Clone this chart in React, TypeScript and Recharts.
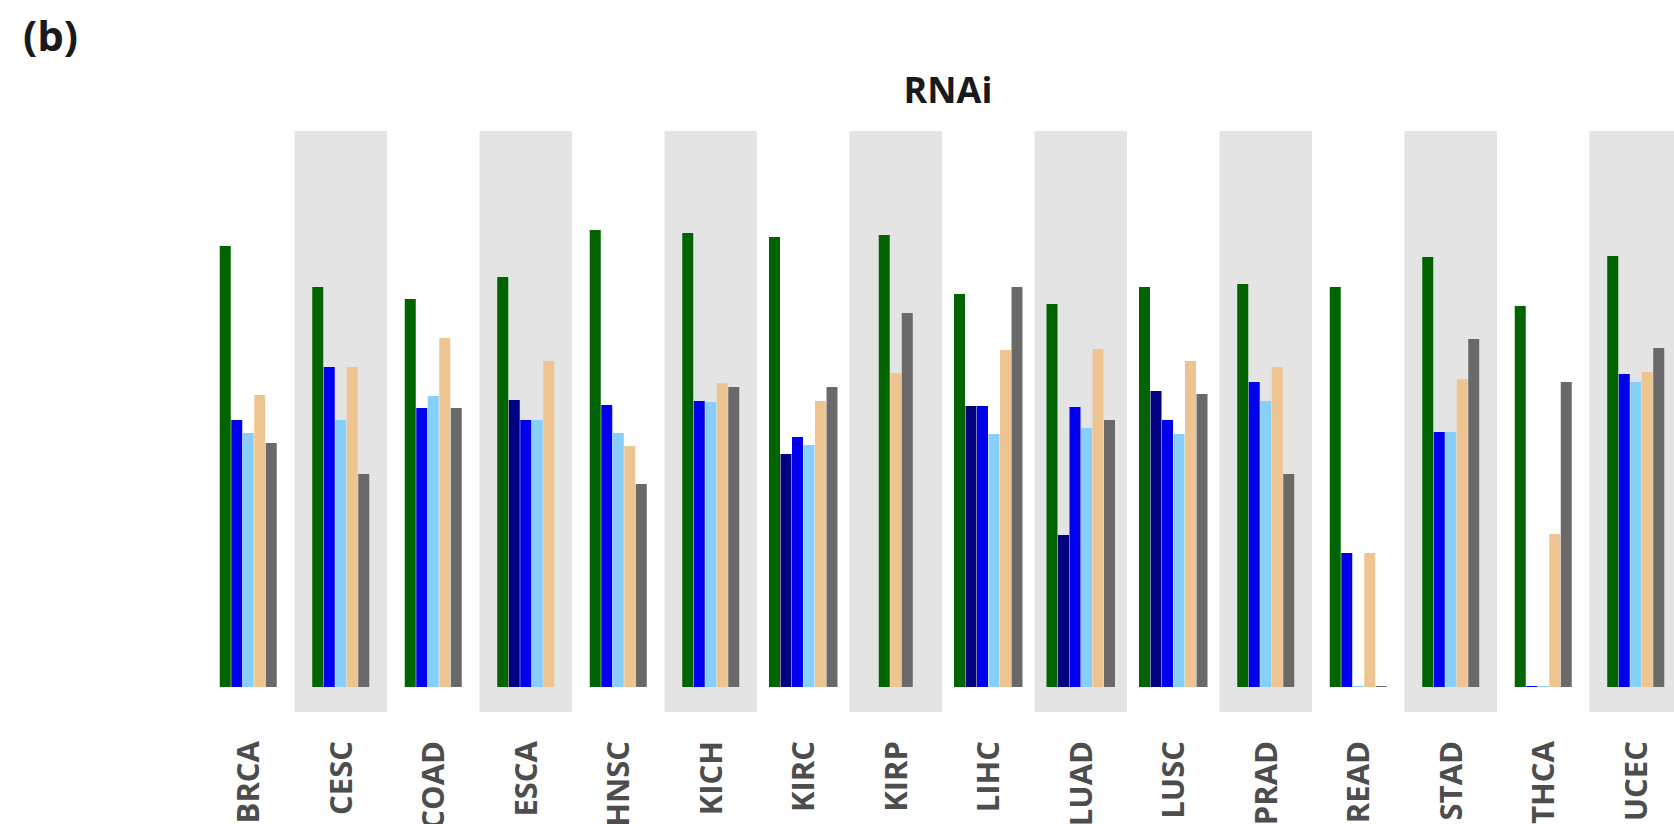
import { BarChart, Bar, XAxis, YAxis, ReferenceArea } from 'recharts';

const categories = ['BRCA', 'CESC', 'COAD', 'ESCA', 'HNSC', 'KICH', 'KIRC', 'KIRP', 'LIHC', 'LUAD', 'LUSC', 'PRAD', 'READ', 'STAD', 'THCA', 'UCEC'];

// null = no bar for this group (the remaining bars are re-centred)
const greenValues = [4.41, 4.0, 3.88, 4.1, 4.57, 4.54, 4.5, 4.52, 3.93, 3.83, 4.0, 4.03, 4.0, 4.3, 3.81, 4.31];
const navyValues = [null, null, null, 2.87, null, null, 2.33, null, 2.81, 1.52, 2.96, null, null, null, null, null];
const blueValues = [2.67, 3.2, 2.79, 2.67, 2.82, 2.86, 2.5, null, 2.81, 2.8, 2.67, 3.05, 1.34, 2.55, 0.01, 3.13];
const lightBlueValues = [2.54, 2.67, 2.91, 2.67, 2.54, 2.85, 2.42, null, 2.53, 2.59, 2.53, 2.86, 0.01, 2.55, 0.01, 3.05];
const tanValues = [2.92, 3.2, 3.49, 3.26, 2.41, 3.04, 2.86, 3.14, 3.37, 3.38, 3.26, 3.2, 1.34, 3.08, 1.53, 3.15];
const grayValues = [2.44, 2.13, 2.79, null, 2.03, 3.0, 3.0, 3.74, 4.0, 2.67, 2.93, 2.13, 0.01, 3.48, 3.05, 3.39];

const shadedCategories = categories.filter((_, i) => i % 2 === 1);

const series = [
  { key: 'green', color: '#006400' },
  { key: 'navy', color: '#000080' },
  { key: 'blue', color: '#0000EE' },
  { key: 'lightblue', color: '#87CEFA' },
  { key: 'tan', color: '#EEC591' },
  { key: 'gray', color: '#696969' },
];

const data = categories.map((name, i) => ({
  name,
  green: greenValues[i],
  navy: navyValues[i],
  blue: blueValues[i],
  lightblue: lightBlueValues[i],
  tan: tanValues[i],
  gray: grayValues[i],
}));

const BAR_W = 11;
const BAR_GAP = 0.5;

// moves each bar so that only the bars present in a group are packed and centred
function makeShape(seriesIdx: number) {
  return (props: any) => {
    const { x, y, width, height, fill, payload } = props;
    const key = series[seriesIdx].key;
    if (payload[key] == null || !height) return null;
    const present = series.filter((s) => payload[s.key] != null).map((s) => s.key);
    const n = present.length;
    const k = present.indexOf(key);
    const step = width + BAR_GAP;
    const slot0 = x - seriesIdx * step;
    const center = slot0 + (series.length * width + (series.length - 1) * BAR_GAP) / 2;
    const nx = center - (n * width + (n - 1) * BAR_GAP) / 2 + k * step;
    return <rect x={nx} y={y} width={width} height={height} fill={fill} />;
  };
}

const CategoryTick = (props: any) => {
  const { x, payload } = props;
  return (
    <text
      transform={`translate(${x + 11}, 741) rotate(-90)`}
      textAnchor="end"
      fontFamily="'Open Sans', sans-serif"
      fontWeight={700}
      fontSize={31}
      fill="#4D4D4D"
    >
      {payload.value}
    </text>
  );
};

export default function App() {
  return (
    <div style={{ position: 'absolute', left: 0, top: 0, width: 1674, height: 824, overflow: 'hidden', background: '#fff' }}>
      <BarChart
        width={1682}
        height={824}
        data={data}
        margin={{ top: 131, right: 0, left: 202, bottom: 0 }}
        barSize={BAR_W}
        barGap={BAR_GAP}
      >
        <XAxis dataKey="name" height={112} axisLine={false} tickLine={false} tick={<CategoryTick />} interval={0} />
        <YAxis hide domain={[-0.25, 5.56]} />
        {shadedCategories.map((c) => (
          <ReferenceArea key={c} x1={c} x2={c} y1={-0.25} y2={5.56} fill="#E4E4E4" fillOpacity={1} stroke="none" ifOverflow="visible" />
        ))}
        {series.map((s, i) => (
          <Bar key={s.key} dataKey={s.key} fill={s.color} isAnimationActive={false} shape={makeShape(i)} />
        ))}
      </BarChart>
      <svg width={1674} height={824} style={{ position: 'absolute', left: 0, top: 0, pointerEvents: 'none' }}>
        <text x={23} y={51} fontFamily="'Open Sans', sans-serif" fontWeight={700} fontSize={42} fill="#1A1A1A">
          (b)
        </text>
        <text x={948} y={103} textAnchor="middle" fontFamily="'Open Sans', sans-serif" fontWeight={700} fontSize={36} fill="#1A1A1A">
          RNAi
        </text>
      </svg>
    </div>
  );
}
